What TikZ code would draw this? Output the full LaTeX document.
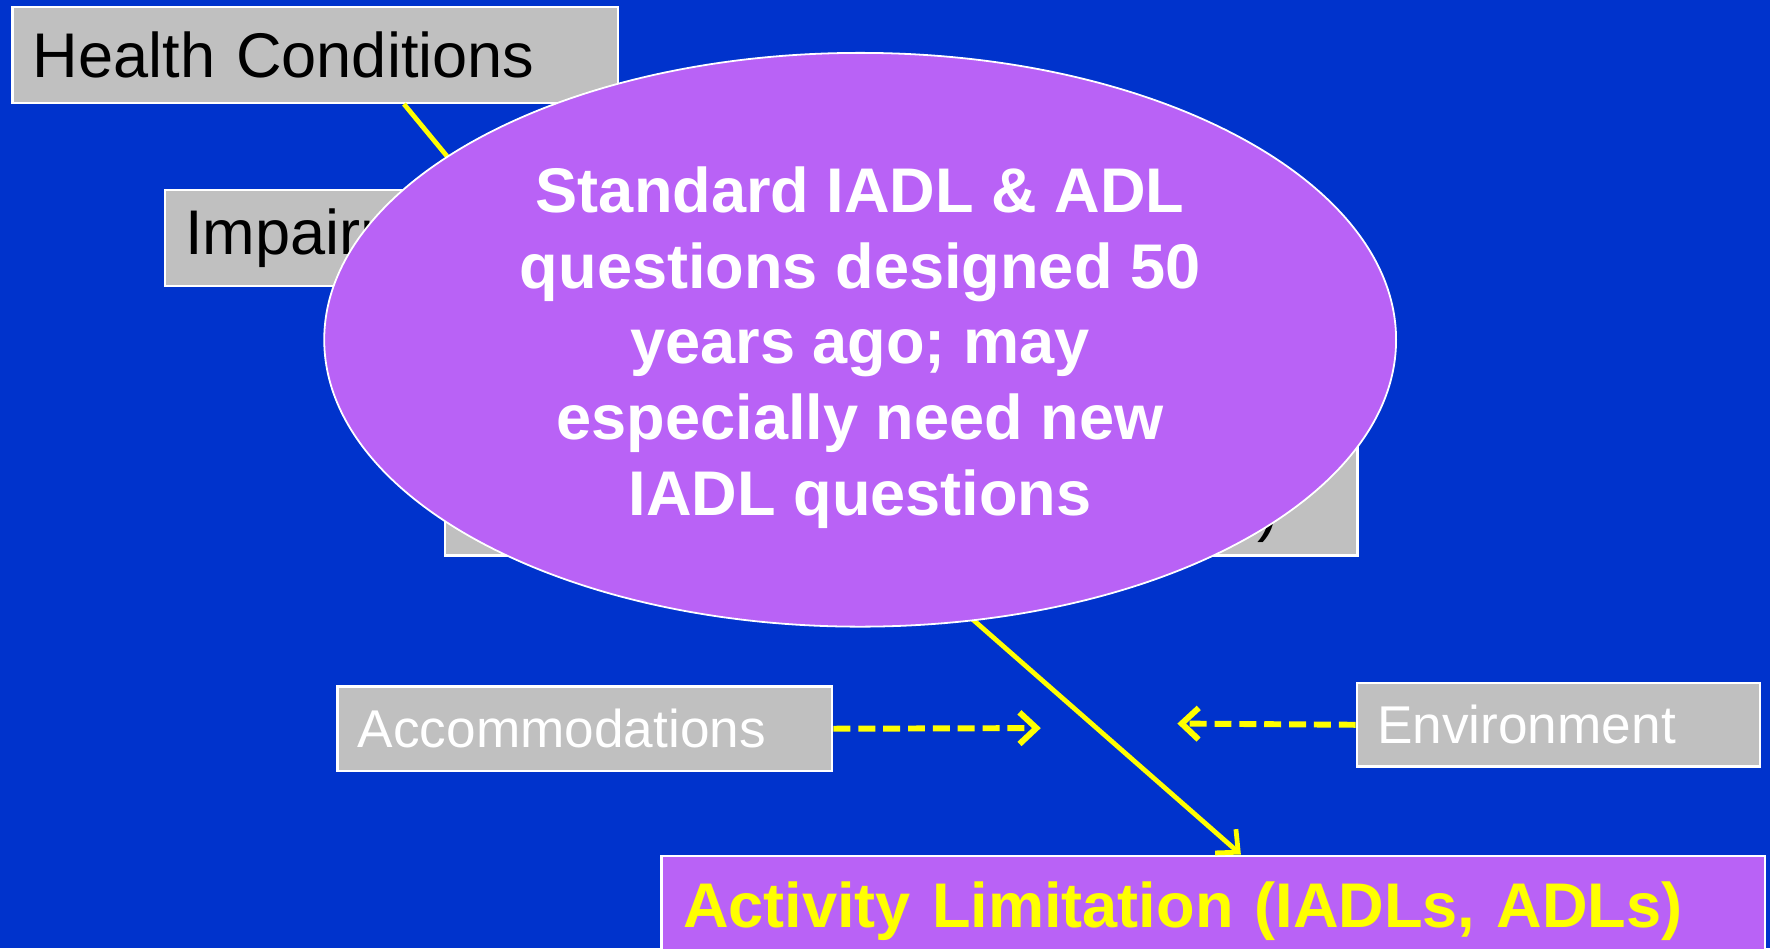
\documentclass[tikz,border=0pt]{standalone}
\usepackage{fontspec}
\setmainfont{Liberation Sans}
\usepackage{tikz}
\usetikzlibrary{positioning}
\usetikzlibrary{arrows.meta}
\usetikzlibrary{shapes}
\definecolor{slideblue}{HTML}{0033CC}
\definecolor{boxgray}{HTML}{C0C0C0}
\definecolor{notepurple}{HTML}{B962F6}
\definecolor{linkyellow}{HTML}{FFFF00}

\begin{document}
\begin{tikzpicture}[x=0.01cm, y=-0.01cm,
	graybox/.style={rectangle, draw=white, line width=0.6pt, fill=boxgray,
		inner xsep=0.18cm, inner ysep=0pt, align=left, anchor=north west},
	big/.style={font=\fontsize{15.9}{19.1}\selectfont},
	small/.style={font=\fontsize{13.4}{16}\selectfont, text=white},
	link/.style={draw=linkyellow, line width=1.2pt, -{Straight Barb[length=0.15cm,width=0.28cm]}},
	dashlink/.style={link, line width=1.5pt, dash pattern=on 0.15cm off 0.07cm}]
	  \clip (0,0) rectangle (1568,840);
	  \fill[slideblue] (0,0) rectangle (1568,840);
	  % boxes behind the note
	  \node[graybox, big, text width=5.00cm, minimum height=0.85cm] (health) at (10,5) {Health Conditions};
	  \node[graybox, big, text width=3.24cm, minimum height=0.85cm] (impair) at (145,167) {Impairments};
	  \node[graybox, minimum width=8.08cm, minimum height=1.01cm] (func) at (393,390) {};
	  \node[big, anchor=base west, inner sep=0pt] (funcend) at (1113,469) {)};
	  \node[rectangle, draw=white, line width=0.6pt, fill=notepurple, anchor=north west,
		minimum width=9.77cm, minimum height=0.98cm, inner xsep=0.19cm, text width=9.39cm,
		align=left, text=linkyellow, font=\bfseries\fontsize{15.9}{19.1}\selectfont] (act) at (585,757)
		{Activity Limitation (IADLs, ADLs)};
	  \draw[link] (health.-29) -- (impair.25);
	  \draw[link] (func.south) -- (act.64);
	  % the note
	  \node[ellipse, draw=white, line width=0.45pt, fill=notepurple, inner sep=0pt,
		minimum width=9.49cm, minimum height=5.08cm] (note) at (762,301) {};
	  \node[text=white, align=center, font=\bfseries\fontsize{15.9}{19.07}\selectfont] (notetext) at (762,308)
		{Standard IADL \& ADL\\questions designed 50\\years ago; may\\especially need new\\IADL questions};
	  \node[graybox, small, text width=4.02cm, minimum height=0.75cm] (accom) at (298,607) {Accommodations};
	  \node[graybox, small, text width=3.21cm, minimum height=0.74cm] (env) at (1201,604) {Environment};
	  \coordinate (accomend) at (922,645);
	  \coordinate (envend) at (1043,641);
	  \draw[dashlink] (accom.east) -- (accomend);
	  \draw[dashlink] (env.west) -- (envend);
	\end{tikzpicture}
\end{document}
